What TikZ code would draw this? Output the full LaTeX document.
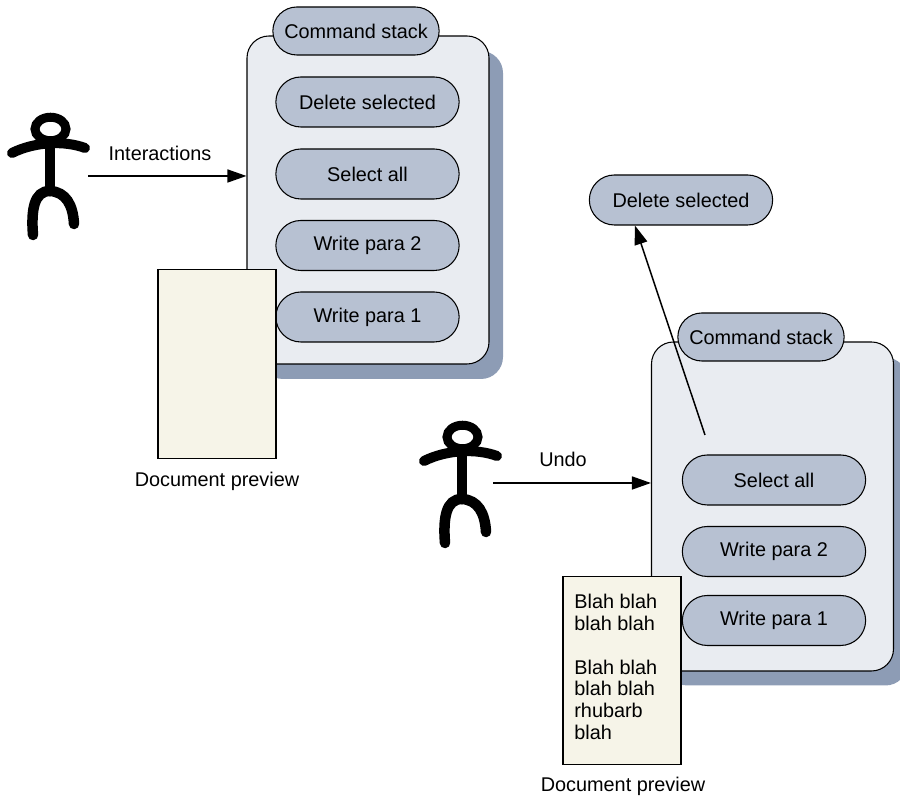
\documentclass[tikz,border=0pt]{standalone}
\usepackage{fontspec}
\setmainfont{Liberation Sans}
\usetikzlibrary{arrows.meta,calc,shapes.misc}
\definecolor{stackfill}{HTML}{E9ECF1}
\definecolor{stackshade}{HTML}{8D9CB5}
\definecolor{ovalfill}{HTML}{B7C1D2}
\definecolor{paperfill}{HTML}{F6F4E8}
\tikzset{
	every node/.style={font=\fontsize{11.3}{12.4}\selectfont},
	stackbox/.style={draw, line width=0.6pt, fill=stackfill, rounded corners=0.44cm, minimum width=4.84cm, minimum height=6.56cm},
	stackshadow/.style={fill=stackshade, rounded corners=0.44cm, minimum width=4.84cm, minimum height=6.56cm},
	oval/.style={draw, line width=0.6pt, fill=ovalfill, rounded rectangle, minimum width=3.9cm, minimum height=1cm},
	headoval/.style={oval, minimum width=3.56cm, minimum height=0.96cm},
	paper/.style={draw, line width=0.6pt, fill=paperfill, minimum width=2.36cm, minimum height=3.77cm},
	flow/.style={line width=0.85pt, -{Triangle[length=0.38cm,width=0.26cm]}},
	limb/.style={line width=0.21cm, line cap=round}
}
\def\stickman(#1,#2){
	\begin{scope}[shift={(#1,#2)}]
		\draw[line width=0.18cm] (0.01, 0.42) ellipse (0.31 and 0.235);
		\draw[line width=0.2cm, line cap=round] (-0.76, -0.06) .. controls (-0.3, 0.17) and (0.3, 0.19) .. (0.70, 0.04);
		\draw[line width=0.2cm] (0, 0.14) -- (0, -0.82);
		\draw[limb] (0, -0.82) .. controls (-0.32, -0.82) and (-0.38, -1.2) .. (-0.34, -1.70);
		\draw[limb] (0, -0.82) .. controls (0.32, -0.84) and (0.46, -1.1) .. (0.48, -1.48);
	\end{scope}
}

\begin{document}
\begin{tikzpicture}
			%%%%% START %%%%%
			\useasboundingbox (0, 0) rectangle (18, 15.94);
			
			%%%%% left stack %%%%%
			\node[stackshadow] at (7.64, 11.64) {};
			\node[stackbox] (stackA) at (7.36, 11.94) {};
			\node[headoval] (headA) at (7.12, 15.32) {Command stack};
			\node[oval] (deleteA) at (7.35, 13.9) {Delete selected};
			\node[oval] (selectA) at (7.35, 12.46) {Select all};
			\node[oval] (paraTwoA) at (7.35, 11.03) {Write para 2};
			\node[oval] (paraOneA) at (7.35, 9.6) {Write para 1};
			\node[paper] (paperA) at (4.34, 8.66) {};
			\node (previewA) at (4.34, 6.32) {Document preview};
			
			\stickman(1, 12.94)
			\coordinate (handA) at (1.76, 12.42);
			\node (interactions) at (3.2, 12.88) {Interactions};
			\draw[flow] (handA) -- (handA -| stackA.west);
			
			%%%%% right stack %%%%%
			\node[stackshadow] at (15.73, 5.51) {};
			\node[stackbox, minimum height=6.58cm] (stackB) at (15.45, 5.81) {};
			\node[headoval] (headB) at (15.22, 9.2) {Command stack};
			\node[oval] (selectB) at (15.48, 6.34) {Select all};
			\node[oval] (paraTwoB) at (15.48, 4.91) {Write para 2};
			\node[oval] (paraOneB) at (15.48, 3.53) {Write para 1};
			\node[paper] (paperB) at (12.44, 2.53) {};
			\node[anchor=north west, inner sep=0pt, align=left] (blah) at (11.48, 4.06) {Blah blah\\blah blah\\[\baselineskip]Blah blah\\blah blah\\rhubarb\\blah};
			\node (previewB) at (12.46, 0.22) {Document preview};
			
			\stickman(9.24, 6.78)
			\coordinate (handB) at (9.86, 6.28);
			\node (undo) at (11.26, 6.76) {Undo};
			\draw[flow] (handB) -- (handB -| stackB.west);
			
			%%%%% popped command %%%%%
			\node[oval] (popped) at (13.62, 11.94) {Delete selected};
			\coordinate (popStart) at (14.1, 7.24);
			\draw[flow] (popStart) -- (popped.209);
			
			%%%%% END %%%%%
		\end{tikzpicture}
\end{document}
